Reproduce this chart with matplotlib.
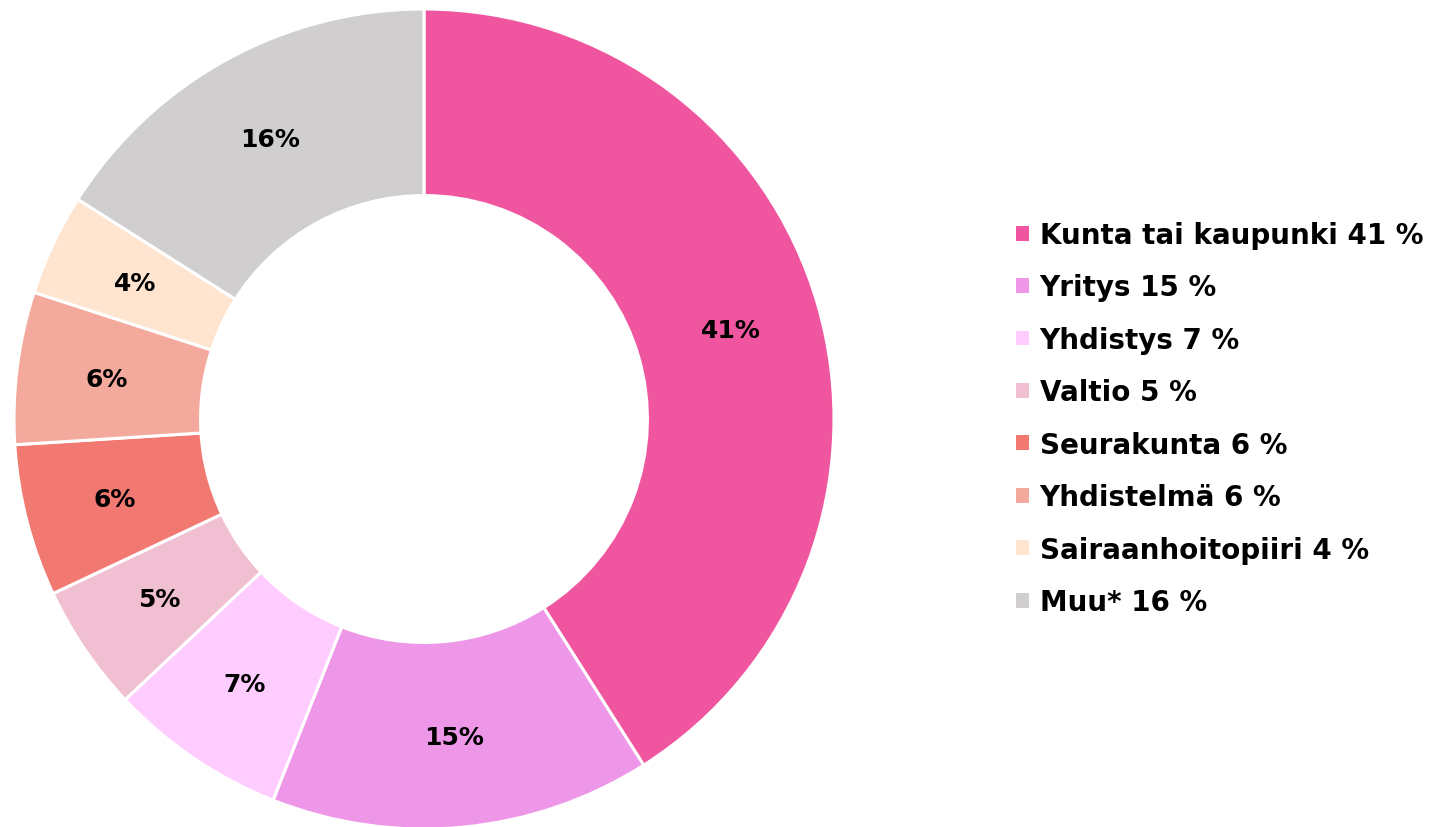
import matplotlib
matplotlib.use("Agg")
import matplotlib.pyplot as plt

categories = ["Kunta tai kaupunki", "Yritys", "Yhdistys", "Valtio", "Seurakunta",
              "Yhdistelmä", "Sairaanhoitopiiri", "Muu*"]
values = [41, 15, 7, 5, 6, 6, 4, 16]
colors = ["#F0569F", "#EE97E8", "#FFCCFF", "#F1BFD2", "#F27872", "#F4A99D", "#FFE5CF", "#D0CECF"]
legend_labels = [f"{c} {v} %" for c, v in zip(categories, values)]

W, H = 1443, 828
fig = plt.figure(figsize=(W / 100, H / 100), dpi=100)
ax = fig.add_axes([0, 0, 1, 1])

font = "DejaVu Sans"
wedges, texts, autotexts = ax.pie(
    values, colors=colors, startangle=90, counterclock=False,
    center=(424, H - 420), radius=410, frame=True,
    autopct=lambda p: f"{p:.0f}%", pctdistance=0.78,
    wedgeprops=dict(width=410 * 0.455, edgecolor="white", linewidth=2.2),
    textprops=dict(fontsize=18, fontweight="bold", family=font, color="black"),
)
ax.set_xlim(0, W)
ax.set_ylim(0, H)
ax.set_aspect("equal")
ax.axis("off")

leg = ax.legend(wedges, legend_labels, loc="upper left",
                bbox_to_anchor=(1016 / W, 1 - 222 / H), bbox_transform=fig.transFigure,
                frameon=False, handlelength=0.45, handleheight=0.45, handletextpad=0.4,
                labelspacing=0.88, borderaxespad=0, borderpad=0,
                prop=dict(family=font, weight="bold", size=20))
for h in leg.legend_handles:
    h.set_linewidth(0)

fig.savefig("out.png", dpi=100)
